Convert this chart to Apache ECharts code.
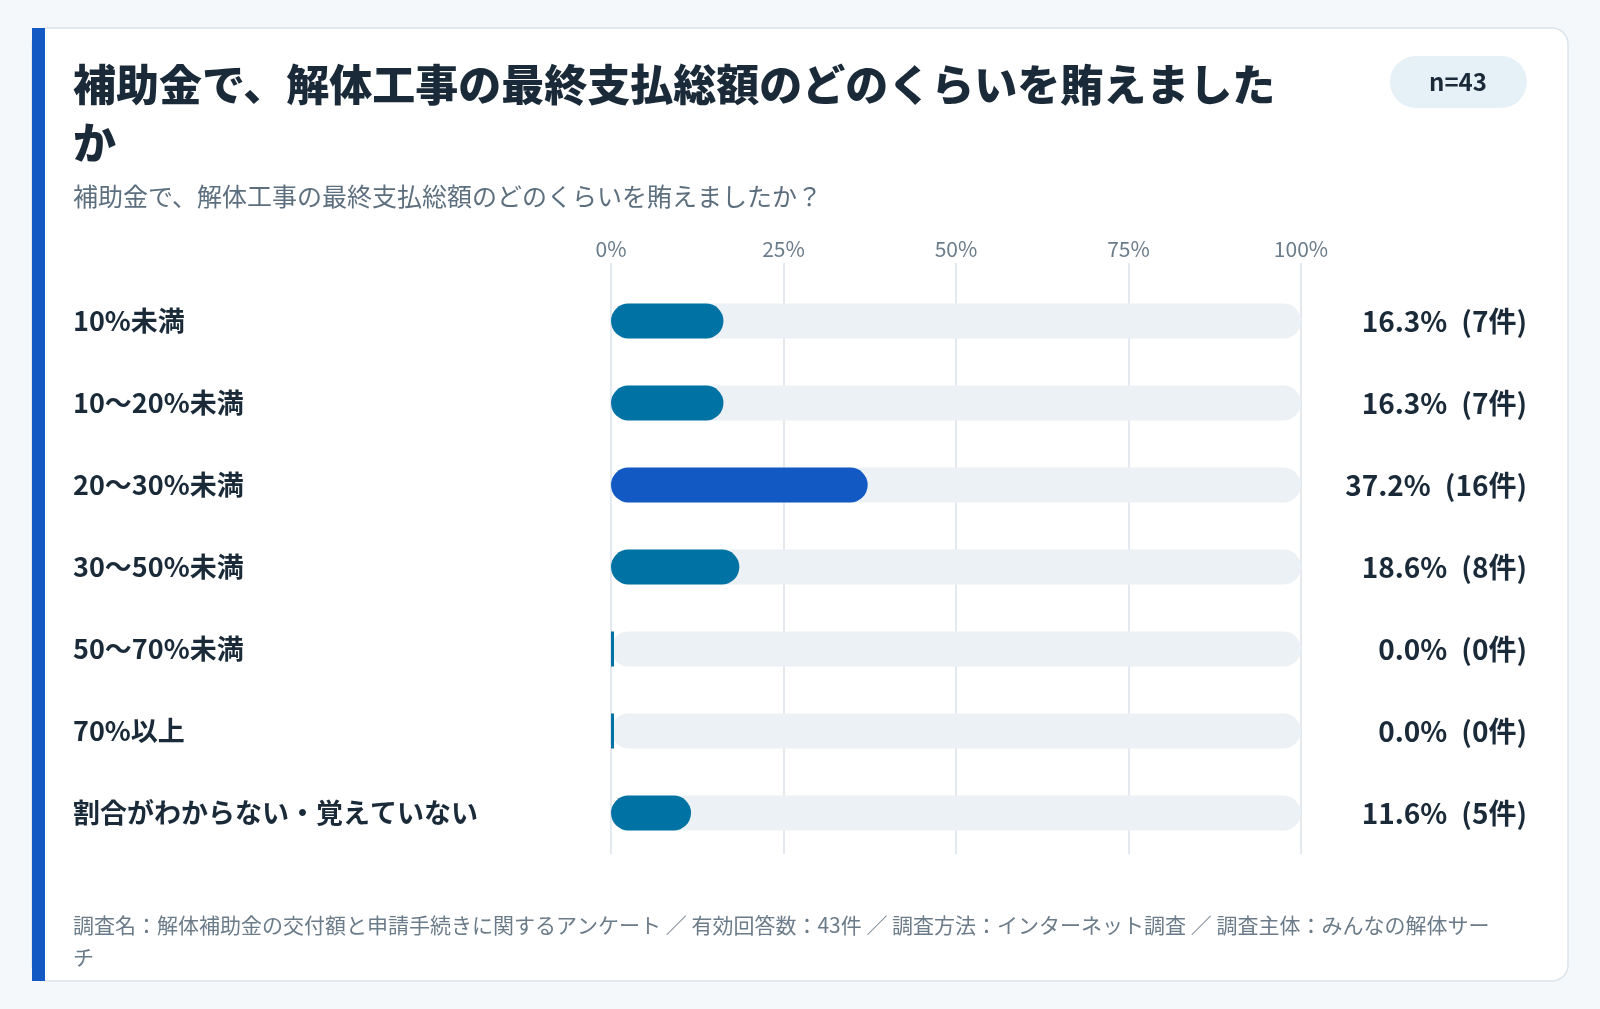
<!DOCTYPE html>
<html>
<head>
<meta charset="utf-8">
<title>補助金で、解体工事の最終支払総額のどのくらいを賄えましたか</title>
<script src="https://cdn.jsdelivr.net/npm/echarts@6.0.0/dist/echarts.min.js"></script>
<style>
    html, body { margin: 0; padding: 0; background: #f4f8fb; }
    #main { width: 1600px; height: 1009px; }
</style>
</head>
<body>
<div id="main"></div>
<script>
// データ
var categories = ['10%未満', '10～20%未満', '20～30%未満', '30～50%未満', '50～70%未満', '70%以上', '割合がわからない・覚えていない']
var percents = [16.3, 16.3, 37.2, 18.6, 0.0, 0.0, 11.6]
var counts = [7, 7, 16, 8, 0, 0, 5]
var tickValues = [0, 25, 50, 75, 100]
var total = 43

var titleText = '補助金で、解体工事の最終支払総額のどのくらいを賄えました\nか'
var subText = '補助金で、解体工事の最終支払総額のどのくらいを賄えましたか？'
var footText = '調査名：解体補助金の交付額と申請手続きに関するアンケート ／ 有効回答数：43件 ／ 調査方法：インターネット調査 ／ 調査主体：みんなの解体サー\nチ'

var FONT = "'Noto Sans CJK JP', 'Noto Sans', sans-serif"

var charts = function () {

}

charts.prototype = {
    init: function () {
        this.myChart = echarts.init(document.getElementById('main'))
        this.initChart()
    },
    initChart: function () {
        var maxVal = Math.max.apply(null, percents)
        var barData = percents.map(function (v) {
            return {
                value: v,
                itemStyle: {
                    color: v === maxVal ? '#1259c3' : '#0072a3',
                    borderRadius: v === 0 ? 0 : 18
                }
            }
        })
        // 右側のラベル（% と件数）
        var rightLabels = percents.map(function (v, i) {
            return v.toFixed(1) + '%\u2002(' + counts[i] + '件)'
        })

        var option = {
            backgroundColor: '#f4f8fb',
            animation: false,
            textStyle: { fontFamily: FONT },
            graphic: [
                // カード
                { type: 'rect', z: -10, shape: { x: 32, y: 28, width: 1536, height: 953, r: 16 },
                  style: { fill: '#ffffff', stroke: '#dbe4ea', lineWidth: 1.5 } },
                { type: 'rect', z: -9, shape: { x: 32, y: 28, width: 13, height: 953 },
                  style: { fill: '#1259c3' } },
                // n=43
                { type: 'rect', z: -9, shape: { x: 1390, y: 56, width: 137, height: 52, r: 26 },
                  style: { fill: '#e6f1f7' } },
                { type: 'text', z: -8, x: 1458, y: 82,
                  style: { text: 'n=' + total, font: 'bold 24px ' + FONT, fill: '#1a2a38', align: 'center', verticalAlign: 'middle' } },
                // タイトル
                { type: 'text', z: -8, x: 73, y: 56,
                  style: { text: titleText, font: '900 43px ' + FONT, fill: '#1a2a38', lineHeight: 58, verticalAlign: 'top' } },
                { type: 'text', z: -8, x: 73, y: 196,
                  style: { text: subText, font: '25px ' + FONT, fill: '#5d6f7f', verticalAlign: 'middle' } },
                // 注記
                { type: 'text', z: -8, x: 73, y: 909,
                  style: { text: footText, font: '21px ' + FONT, fill: '#6b7b89', lineHeight: 32, verticalAlign: 'top' } }
            ],
            grid: [
                { left: 611, right: 299, top: 280, bottom: 155 },
                { left: 611, right: 299, top: 263, bottom: 155 }
            ],
            xAxis: [
                { type: 'value', gridIndex: 0, min: 0, max: 100, interval: 25, show: false },
                {
                    type: 'value', gridIndex: 1, min: 0, max: 100, interval: 25, position: 'top',
                    axisLine: { show: false }, axisTick: { show: false },
                    axisLabel: {
                        margin: 3, fontSize: 21, color: '#6b7c8b', fontFamily: FONT,
                        customValues: tickValues,
                        formatter: function (v) { return v + '%' }
                    },
                    splitLine: { show: true, lineStyle: { color: '#e3e9ee', width: 2 } }
                }
            ],
            yAxis: [
                {
                    type: 'category', gridIndex: 0, data: categories, inverse: true,
                    axisLine: { show: false }, axisTick: { show: false },
                    axisLabel: { align: 'left', margin: 538, padding: [4, 0, 0, 0], fontSize: 27, fontWeight: 'bold', color: '#1a2a38', fontFamily: FONT }
                },
                {
                    type: 'category', gridIndex: 0, data: rightLabels, inverse: true, position: 'right',
                    axisLine: { show: false }, axisTick: { show: false },
                    axisLabel: { align: 'right', margin: 226, padding: [4, 0, 0, 0], fontSize: 28, fontWeight: 'bold', color: '#1a2a38', fontFamily: FONT }
                },
                { type: 'category', gridIndex: 1, data: categories, show: false }
            ],
            series: [{
                type: 'bar',
                xAxisIndex: 0,
                yAxisIndex: 0,
                data: barData,
                barWidth: 35,
                barMinHeight: 3,
                showBackground: true,
                backgroundStyle: { color: '#ecf1f5', borderRadius: 18 },
                z: 3
            }]
        }

        this.myChart.setOption(option)
    }
}

new charts().init()
</script>
</body>
</html>
